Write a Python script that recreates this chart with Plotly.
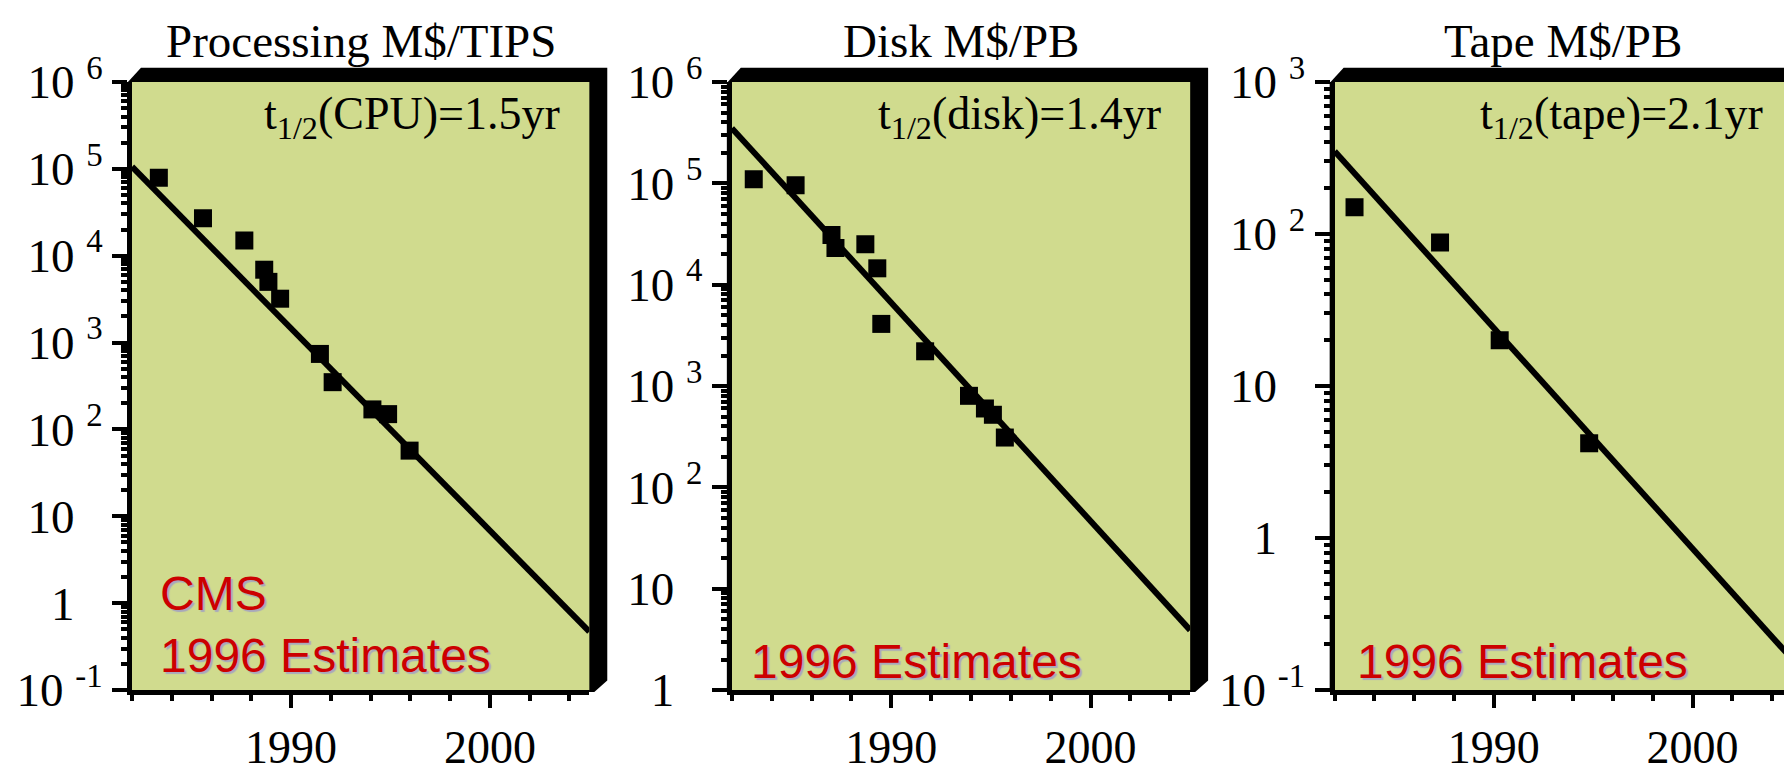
import plotly.graph_objects as go

# ---------------- data ----------------
titles = ["Processing M$/TIPS", "Disk M$/PB", "Tape M$/PB"]
halflife_labels = ["t<sub>1/2</sub>(CPU)=1.5yr",
                   "t<sub>1/2</sub>(disk)=1.4yr",
                   "t<sub>1/2</sub>(tape)=2.1yr"]
estimate_labels = ["CMS<br>1996 Estimates", "1996 Estimates", "1996 Estimates"]

cpu_years = [1983.35, 1985.57, 1987.65, 1988.65, 1988.86, 1989.45,
             1991.45, 1992.09, 1994.09, 1994.88, 1995.96]
cpu_cost = [7.9e4, 2.7e4, 1.5e4, 6.9e3, 5.0e3, 3.2e3, 7.4e2, 3.5e2, 1.7e2, 1.5e2, 57]
cpu_trend_years = [1982, 2005]
cpu_trend_cost = [1.06e5, 0.47]

disk_years = [1983.1, 1985.2, 1987.0, 1987.2, 1988.7, 1989.3, 1989.5,
              1991.7, 1993.9, 1994.7, 1995.1, 1995.7]
disk_cost = [1.1e5, 9.6e4, 3.1e4, 2.3e4, 2.5e4, 1.45e4, 4.1e3,
             2.2e3, 8.0e2, 6.0e2, 5.2e2, 3.1e2]
disk_trend_years = [1982, 2005]
disk_trend_cost = [3.5e5, 3.9]

tape_years = [1983.0, 1987.3, 1990.3, 1994.8]
tape_cost = [150, 88, 20, 4.2]
tape_trend_years = [1982, 2005]
tape_trend_cost = [3.5e2, 0.16]

year_range = [1982, 2005]
log_ranges = [[-1, 6], [0, 6], [-1, 3]]

PAD = "\u00a0<sup>\u2007</sup>"
ytick_vals = [
    [0.1, 1, 10, 1e2, 1e3, 1e4, 1e5, 1e6],
    [1, 10, 1e2, 1e3, 1e4, 1e5, 1e6],
    [0.1, 1, 10, 1e2, 1e3],
]
ytick_text = [
    ["10\u00a0<sup>-1</sup>", "1" + PAD, "10" + PAD, "10\u00a0<sup>2</sup>",
     "10\u00a0<sup>3</sup>", "10\u00a0<sup>4</sup>", "10\u00a0<sup>5</sup>", "10\u00a0<sup>6</sup>"],
    ["1" + PAD, "10" + PAD, "10\u00a0<sup>2</sup>", "10\u00a0<sup>3</sup>",
     "10\u00a0<sup>4</sup>", "10\u00a0<sup>5</sup>", "10\u00a0<sup>6</sup>"],
    ["10\u00a0<sup>-1</sup>", "1" + PAD, "10" + PAD, "10\u00a0<sup>2</sup>", "10\u00a0<sup>3</sup>"],
]
xtick_vals = [1990, 2000]
xtick_text = ["1990", "2000"]

series = [
    (cpu_years, cpu_cost, cpu_trend_years, cpu_trend_cost),
    (disk_years, disk_cost, disk_trend_years, disk_trend_cost),
    (tape_years, tape_cost, tape_trend_years, tape_trend_cost),
]

# ---------------- layout geometry ----------------
W, H = 1792, 773
ML, MR, MT, MB = 118, 8, 74, 57
PW, PH = W - ML - MR, H - MT - MB
panel_px = [(118, 577), (720, 1180), (1325, 1784)]
est_inset = [26, 17, 20]
est_bottom = [710, 716, 716]

def px_x(p):
    return (p - ML) / PW

def px_y(p):
    return (H - MB - p) / PH

GREEN = "#D0DB8E"
RED = "#CC0000"
SERIF = "Liberation Serif, Times New Roman, serif"
SANS = "Liberation Sans, Arial, sans-serif"

fig = go.Figure()
shapes = []
annotations = []

for i, (xs, ys, tx, ty) in enumerate(series):
    n = "" if i == 0 else str(i + 1)
    xa, ya = "x" + n, "y" + n
    fig.add_trace(go.Scatter(x=tx, y=ty, mode="lines", xaxis=xa, yaxis=ya,
                             line=dict(color="black", width=6), showlegend=False))
    fig.add_trace(go.Scatter(x=xs, y=ys, mode="markers", xaxis=xa, yaxis=ya,
                             marker=dict(symbol="square", size=18, color="black",
                                         line=dict(width=0)),
                             showlegend=False))
    L, R = panel_px[i]
    T, B = MT, H - MB
    # 3D black frame (top + right bands)
    pts = [(L - 5, T + 1), (L + 9, T - 15), (R + 18, T - 15), (R + 18, B - 10),
           (R + 5, B + 2), (L - 5, B + 2)]
    path = "M " + " L ".join(f"{px_x(a):.5f},{px_y(b):.5f}" for a, b in pts) + " Z"
    shapes.append(dict(type="path", path=path, xref="paper", yref="paper",
                       fillcolor="black", line=dict(width=0), layer="below"))
    shapes.append(dict(type="rect", x0=px_x(L), x1=px_x(R), y0=px_y(B), y1=px_y(T),
                       xref="paper", yref="paper", fillcolor=GREEN,
                       line=dict(width=0), layer="below"))

    dom = [px_x(L), px_x(R)]
    axis_x = dict(domain=dom, range=year_range, anchor=ya,
                  showline=True, linewidth=5, linecolor="black",
                  ticks="outside", ticklen=13, tickwidth=4, tickcolor="black",
                  tickmode="array", tickvals=xtick_vals, ticktext=xtick_text,
                  tickfont=dict(family=SERIF, size=46, color="black"),
                  minor=dict(ticks="outside", ticklen=6, tickwidth=4, tickcolor="black",
                             dtick=2, tick0=1982),
                  showgrid=False, zeroline=False)
    axis_y = dict(domain=[0, 1], type="log", range=log_ranges[i], anchor=xa,
                  showline=True, linewidth=5, linecolor="black",
                  ticks="outside", ticklen=15, tickwidth=4, tickcolor="black",
                  tickmode="array", tickvals=ytick_vals[i], ticktext=ytick_text[i],
                  tickfont=dict(family=SERIF, size=47, color="black"),
                  minor=dict(ticks="outside", ticklen=6, tickwidth=4, tickcolor="black",
                             dtick="D1"),
                  showgrid=False, zeroline=False)
    fig.update_layout(**{"xaxis" + n: axis_x, "yaxis" + n: axis_y})

    # title
    annotations.append(dict(text=titles[i], xref="paper", yref="paper",
                            x=px_x((L + R) / 2), y=px_y(1), xanchor="center",
                            yanchor="top", showarrow=False,
                            font=dict(family=SERIF, size=47, color="black")))
    # half-life label
    annotations.append(dict(text=halflife_labels[i], xref=xa + " domain", yref=ya + " domain",
                            x=1 - 27 / (R - L), y=(B - 111) / (B - T), xanchor="right",
                            yanchor="middle", showarrow=False,
                            font=dict(family=SERIF, size=46, color="black")))
    # estimate label
    annotations.append(dict(text=estimate_labels[i], xref=xa + " domain", yref=ya + " domain",
                            x=est_inset[i] / (R - L), y=(B - est_bottom[i]) / (B - T),
                            xanchor="left", yanchor="bottom", align="left", showarrow=False,
                            font=dict(family=SANS, size=48, color=RED,
                                      shadow="2px 2px 1px #a8a8bc")))

fig.update_layout(width=W, height=H, margin=dict(l=ML, r=MR, t=MT, b=MB, pad=0),
                  paper_bgcolor="white", plot_bgcolor="rgba(0,0,0,0)",
                  shapes=shapes, annotations=annotations, showlegend=False)

fig.write_html("out.html")
